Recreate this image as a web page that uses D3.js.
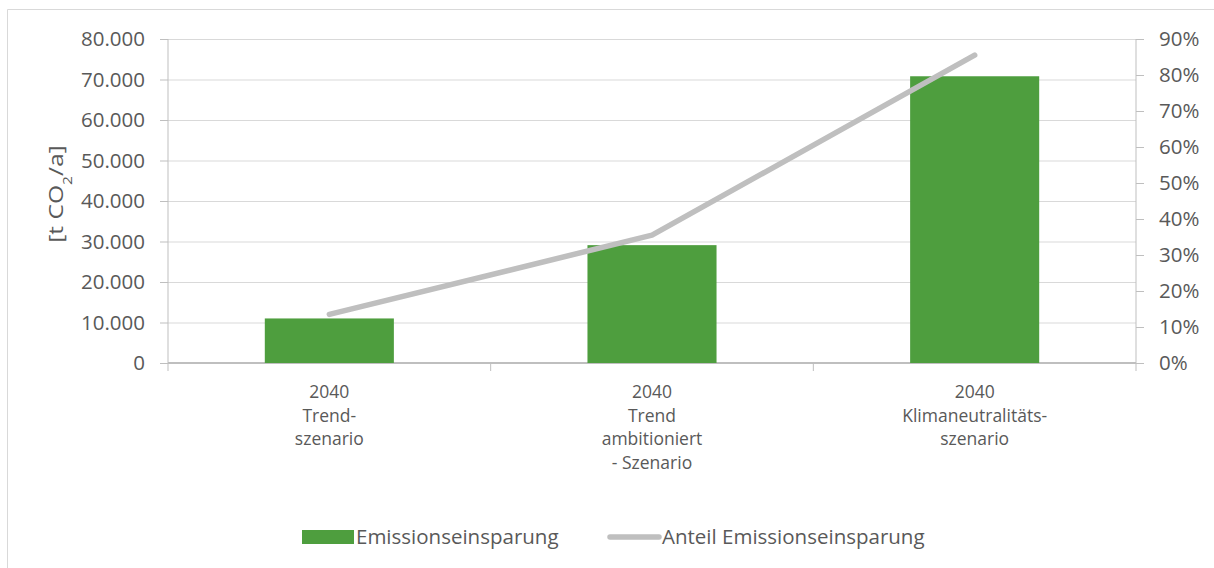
<!DOCTYPE html>
<html lang="de">
<meta charset="utf-8">
<head>
  <title>Emissionseinsparung</title>
  <style>
  body { margin: 0; background: #fff; }
  text { font-family: "Open Sans", sans-serif; fill: #595959; }
  .axis path, .axis line { stroke: #bfbfbf; }
  .grid line { stroke: #d9d9d9; }
  .grid path { display: none; }
  </style>
</head>
<body>
<svg width="1214" height="568"></svg>
<script src="https://cdn.jsdelivr.net/npm/d3@7"></script>
<script>

// data
var categories = [
  ["2040", "Trend-", "szenario"],
  ["2040", "Trend", "ambitioniert", "- Szenario"],
  ["2040", "Klimaneutralitäts-", "szenario"]
];
var einsparung = [11000, 29100, 70800];      // t CO2/a
var anteil = [0.135, 0.355, 0.855];           // share
var leftTicks = [0, 10000, 20000, 30000, 40000, 50000, 60000, 70000, 80000];
var rightTicks = [0, 0.1, 0.2, 0.3, 0.4, 0.5, 0.6, 0.7, 0.8, 0.9];
var seriesNames = ["Emissionseinsparung", "Anteil Emissionseinsparung"];

var svg = d3.select("svg"),
    margin = {top: 39, right: 78, bottom: 205, left: 168},
    width = 1214 - margin.left - margin.right,
    height = 568 - margin.top - margin.bottom;

// chart border (only left + top visible in the crop)
svg.append("path")
    .attr("d", "M7.5,568 V9.5 H1214")
    .attr("fill", "none")
    .attr("stroke", "#d9d9d9");

var g = svg.append("g").attr("transform", "translate(" + margin.left + "," + margin.top + ")");

var idx = d3.range(categories.length);

var x = d3.scaleBand().domain(idx).range([0, width]).paddingInner(0.6).paddingOuter(0.3);
var y = d3.scaleLinear().domain([0, 80000]).range([height, 0]);
var y2 = d3.scaleLinear().domain([0, 0.9]).range([height, 0]);

var fmt = d3.formatLocale({decimal: ",", thousands: ".", grouping: [3], currency: ["", "€"]});

// gridlines
g.append("g")
    .attr("class", "grid")
    .call(d3.axisLeft(y).tickValues(leftTicks).tickSize(-width).tickFormat(""));

// left axis
g.append("g")
    .attr("class", "axis")
    .call(d3.axisLeft(y).tickValues(leftTicks).tickSize(8).tickPadding(15).tickFormat(fmt.format(",.0f")))
    .call(function(a) { a.select(".domain").attr("d", "M0," + height + "V0"); })
    .selectAll("text").style("font-size", "20.5px");

// right axis
g.append("g")
    .attr("class", "axis")
    .attr("transform", "translate(" + width + ",0)")
    .call(d3.axisRight(y2).tickValues(rightTicks).tickSize(8).tickPadding(15).tickFormat(d3.format(".0%")))
    .call(function(a) { a.select(".domain").attr("d", "M0," + height + "V0"); })
    .selectAll("text").style("font-size", "20.5px");

// bottom axis with tick marks between categories
var step = x.step();
var bottom = g.append("g").attr("class", "axis").attr("transform", "translate(0," + height + ")");
bottom.append("line").attr("x1", 0).attr("x2", width).attr("stroke-width", 2);
bottom.selectAll(".tk")
    .data(d3.range(categories.length + 1))
    .enter().append("line")
      .attr("x1", function(d) { return d * step; })
      .attr("x2", function(d) { return d * step; })
      .attr("y1", 0).attr("y2", 8);

// one text per label line so lines don't collide
bottom.selectAll(".lab")
    .data(d3.merge(idx.map(function(c) {
      return categories[c].map(function(s, i) { return {c: c, i: i, s: s}; });
    })))
    .enter().append("text")
      .attr("class", "lab")
      .attr("text-anchor", "middle")
      .attr("x", function(d) { return x(d.c) + x.bandwidth() / 2; })
      .attr("y", function(d) { return 35 + d.i * 23.5; })
      .style("font-size", "17.5px")
      .text(function(d) { return d.s; });

// bars
g.selectAll(".bar")
    .data(idx)
    .enter().append("rect")
      .attr("class", "bar")
      .attr("x", function(d) { return x(d); })
      .attr("width", x.bandwidth())
      .attr("y", function(d) { return y(einsparung[d]); })
      .attr("height", function(d) { return height - y(einsparung[d]); })
      .attr("fill", "#4e9e3e");

// share line
var line = d3.line()
    .x(function(d) { return x(d) + x.bandwidth() / 2; })
    .y(function(d) { return y2(anteil[d]); });

g.append("path")
    .datum(idx)
    .attr("d", line)
    .attr("fill", "none")
    .attr("stroke", "#bfbfbf")
    .attr("stroke-width", 5.5)
    .attr("stroke-linecap", "round")
    .attr("stroke-linejoin", "round");

// y label
svg.append("text")
    .attr("transform", "translate(63," + (margin.top + 155) + ") rotate(-90) scale(1.2,1)")
    .attr("text-anchor", "middle")
    .style("font-size", "20.5px")
    .call(function(t) {
      t.append("tspan").text("[t CO");
      t.append("tspan").attr("baseline-shift", "sub").style("font-size", "13px").text("2");
      t.append("tspan").text("/a]");
    });

// legend
var leg = svg.append("g").attr("transform", "translate(0,537)");
leg.append("rect").attr("x", 302).attr("y", -7).attr("width", 52).attr("height", 14).attr("fill", "#4e9e3e");
leg.append("text").attr("x", 356).attr("dy", "0.35em").style("font-size", "20.5px").text(seriesNames[0]);
leg.append("line").attr("x1", 610).attr("x2", 659).attr("stroke", "#bfbfbf")
    .attr("stroke-width", 5.5).attr("stroke-linecap", "round");
leg.append("text").attr("x", 662).attr("dy", "0.35em").style("font-size", "20.5px").text(seriesNames[1]);

</script>
</body>
</html>
